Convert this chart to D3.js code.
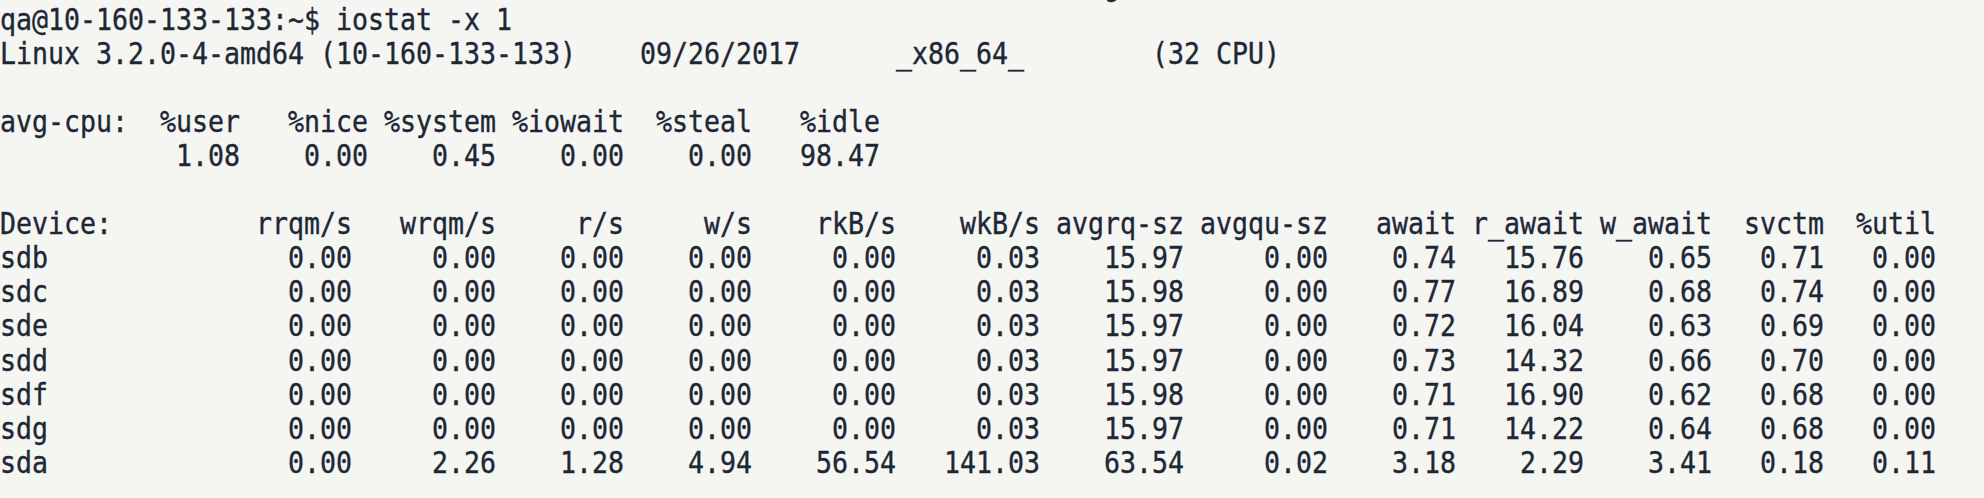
<!DOCTYPE html>
<html>
<head>
<meta charset="utf-8">
<script src="https://cdn.jsdelivr.net/npm/d3@7"></script>
<style>
	html, body { margin: 0; padding: 0; background: #f5f6f1; }
	svg { display: block; }
	.term { font-family: "DejaVu Sans Mono", monospace; font-size: 26.58px; fill: #1d2836; stroke: #1d2836; stroke-width: 0.35px; white-space: pre; }
</style>
</head>
<body>
<svg id="term_svg"></svg>
<script>
var width = 1984, height = 498;

// what was on screen
var prevLineTail = "g";
var promptLine = "qa@10-160-133-133:~$ iostat -x 1";
var sysInfo = ["Linux 3.2.0-4-amd64 (10-160-133-133) ", "09/26/2017 ", "_x86_64_", "(32 CPU)"];

var cpuLabel = "avg-cpu:";
var cpuHeaders = ["%user", "%nice", "%system", "%iowait", "%steal", "%idle"];
var cpuValues = [1.08, 0.00, 0.45, 0.00, 0.00, 98.47];

var devLabel = "Device:";
var devices = ["sdb", "sdc", "sde", "sdd", "sdf", "sdg", "sda"];
var devHeaders = ["rrqm/s", "wrqm/s", "r/s", "w/s", "rkB/s", "wkB/s", "avgrq-sz", "avgqu-sz", "await", "r_await", "w_await", "svctm", "%util"];
var rrqm   = [0.00, 0.00, 0.00, 0.00, 0.00, 0.00, 0.00];
var wrqm   = [0.00, 0.00, 0.00, 0.00, 0.00, 0.00, 2.26];
var rps    = [0.00, 0.00, 0.00, 0.00, 0.00, 0.00, 1.28];
var wps    = [0.00, 0.00, 0.00, 0.00, 0.00, 0.00, 4.94];
var rkBs   = [0.00, 0.00, 0.00, 0.00, 0.00, 0.00, 56.54];
var wkBs   = [0.03, 0.03, 0.03, 0.03, 0.03, 0.03, 141.03];
var avgrq  = [15.97, 15.98, 15.97, 15.97, 15.98, 15.97, 63.54];
var avgqu  = [0.00, 0.00, 0.00, 0.00, 0.00, 0.00, 0.02];
var await_ = [0.74, 0.77, 0.72, 0.73, 0.71, 0.71, 3.18];
var rAwait = [15.76, 16.89, 16.04, 14.32, 16.90, 14.22, 2.29];
var wAwait = [0.65, 0.68, 0.63, 0.66, 0.62, 0.64, 3.41];
var svctm  = [0.71, 0.74, 0.69, 0.70, 0.68, 0.68, 0.18];
var util   = [0.00, 0.00, 0.00, 0.00, 0.00, 0.00, 0.11];

(function(){
	// printf field widths as iostat uses them
	var cpuLabelWidth = 10, cpuWidths = [5, 7, 7, 7, 7, 7];
	var devLabelWidth = 13, devWidths = [8, 8, 7, 7, 8, 8, 8, 8, 7, 7, 7, 6, 6];
	var devColumns = [rrqm, wrqm, rps, wps, rkBs, wkBs, avgrq, avgqu, await_, rAwait, wAwait, svctm, util];

	var fmt = d3.format(".2f");

	function pad(s, w) { return (s.length >= w) ? s : " ".repeat(w - s.length) + s; }
	function padRight(s, w) { return s + " ".repeat(Math.max(0, w - s.length)); }
	function expandTabs(parts) {
		var out = "";
		parts.forEach(function(p, i) {
			out += p;
			if (i < parts.length - 1) out += " ".repeat(8 - out.length % 8);
		});
		return out;
	}

	var lines = [];
	lines.push(promptLine);
	lines.push(expandTabs(sysInfo));
	lines.push("");
	lines.push(padRight(cpuLabel, cpuLabelWidth) + cpuHeaders.map(function(h, i) { return (i ? " " : "") + pad(h, cpuWidths[i]); }).join(""));
	lines.push(padRight("", cpuLabelWidth) + cpuValues.map(function(v, i) { return (i ? " " : "") + pad(fmt(v), cpuWidths[i]); }).join(""));
	lines.push("");
	lines.push(padRight(devLabel, devLabelWidth) + devHeaders.map(function(h, i) { return " " + pad(h, devWidths[i]); }).join(""));
	devices.forEach(function(d, r) {
		lines.push(padRight(d, devLabelWidth) + devColumns.map(function(col, i) { return " " + pad(fmt(col[r]), devWidths[i]); }).join(""));
	});

	// one character cell -> 16px, one line -> 34.07px
	var x = d3.scaleLinear().domain([0, 1]).range([0, 16]);
	var y = d3.scaleLinear().domain([0, 1]).range([29.8, 63.87]);

	var svg = d3.select("#term_svg").attr("width", width).attr("height", height);
	svg.append("rect").attr("width", width).attr("height", height).style("fill", "#f5f6f1");

	var screen = svg.append("g").attr("id", "screen");

	// tail of the line scrolled off the top
	screen.append("text")
		.classed("term", true)
		.attr("transform", "translate(" + x(69) + "," + y(-1) + ") scale(1,1.1)")
		.text(prevLineTail);

	screen.selectAll("text.line")
		.data(lines.map(function(l, i) { return {text: l, row: i}; }).filter(function(d) { return d.text.length; }))
		.enter().append("text")
		.classed("term line", true)
		.attr("xml:space", "preserve")
		.attr("transform", function(d) { return "translate(" + x(0) + "," + y(d.row) + ") scale(1,1.1)"; })
		.attr("textLength", function(d) { return x(d.text.length); })
		.attr("lengthAdjust", "spacing")
		.text(function(d) { return d.text; });
})();
</script>
</body>
</html>
